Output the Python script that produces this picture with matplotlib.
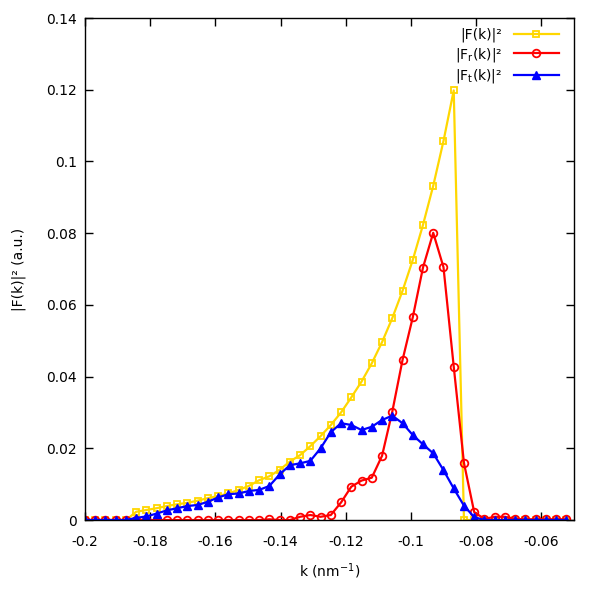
import matplotlib
matplotlib.use("Agg")
import matplotlib.pyplot as plt

k = [-0.20000, -0.19686, -0.19372, -0.19058, -0.18743, -0.18429, -0.18115, -0.17801,
     -0.17487, -0.17173, -0.16858, -0.16544, -0.16230, -0.15916, -0.15602, -0.15288,
     -0.14973, -0.14659, -0.14345, -0.14031, -0.13717, -0.13403, -0.13088, -0.12774,
     -0.12460, -0.12146, -0.11832, -0.11518, -0.11204, -0.10889, -0.10575, -0.10261,
     -0.09947, -0.09633, -0.09319, -0.09004, -0.08690, -0.08376, -0.08062, -0.07748,
     -0.07434, -0.07119, -0.06805, -0.06491, -0.06177, -0.05863, -0.05549, -0.05235]

F_total = [0, 0, 0, 0, 0, 0.0023, 0.0028, 0.0033, 0.0039, 0.0044, 0.0048, 0.0054,
           0.0061, 0.0067, 0.0074, 0.0084, 0.0095, 0.0111, 0.0122, 0.0140, 0.0163, 0.0181,
           0.0206, 0.0234, 0.0265, 0.0300, 0.0342, 0.0386, 0.0437, 0.0496, 0.0563, 0.0639,
           0.0725, 0.0823, 0.0932, 0.1057, 0.1198, 0, 0, 0, 0, 0, 0, 0, 0, 0, 0, 0]

F_r = [0, 0, 0, 0, 0, 0, 0, 0, 0, 0, 0, 0, 0, 0, 0, 0, 0, 0, 0.0002, 0, 0,
       0.0009, 0.0014, 0.0009, 0.0014, 0.0049, 0.0093, 0.0110, 0.0118, 0.0179, 0.0302,
       0.0446, 0.0565, 0.0704, 0.0801, 0.0705, 0.0428, 0.0159, 0.0022, 0.0003, 0.0009,
       0.0009, 0.0003, 0.0002, 0.0002, 0.0002, 0.0002, 0.0002]

F_t = [0, 0, 0, 0, 0, 0.0006, 0.0010, 0.0018, 0.0027, 0.0033, 0.0039, 0.0042, 0.0051,
       0.0063, 0.0072, 0.0074, 0.0081, 0.0084, 0.0095, 0.0127, 0.0153, 0.0158, 0.0165,
       0.0200, 0.0245, 0.0270, 0.0265, 0.0251, 0.0260, 0.0279, 0.0291, 0.0270, 0.0237,
       0.0211, 0.0186, 0.0139, 0.0088, 0.0040, 0.0008, 0, 0, 0, 0, 0, 0, 0, 0, 0]

labels = ["|F(k)|²", "|F$_\\mathrm{r}$(k)|²", "|F$_\\mathrm{t}$(k)|²"]
xticks = [-0.2, -0.18, -0.16, -0.14, -0.12, -0.1, -0.08, -0.06]
xticklabels = ["-0.2", "-0.18", "-0.16", "-0.14", "-0.12", "-0.1", "-0.08", "-0.06"]
yticks = [0, 0.02, 0.04, 0.06, 0.08, 0.1, 0.12, 0.14]
yticklabels = ["0", "0.02", "0.04", "0.06", "0.08", "0.1", "0.12", "0.14"]

plt.rcParams['font.family'] = ['DejaVu Sans']
plt.rcParams['axes.unicode_minus'] = False
plt.rcParams['mathtext.default'] = 'regular'

fig = plt.figure(figsize=(6, 6), dpi=100)
ax = fig.add_axes([0.1417, 0.1333, 0.815, 0.8367])

ax.plot(k, F_total, color="#ffd700", lw=1.6, marker="s", ms=5, mfc="none", mew=1.3,
        label=labels[0])
ax.plot(k, F_r, color="#ff0000", lw=1.6, marker="o", ms=5.5, mfc="none", mew=1.3,
        label=labels[1])
ax.plot(k, F_t, color="#0000ff", lw=1.6, marker="^", ms=6, mfc="#0000ff", mew=1.0,
        label=labels[2])

ax.set_xlim(-0.2, -0.05)
ax.set_ylim(0, 0.14)
ax.set_xticks(xticks)
ax.set_xticklabels(xticklabels)
ax.set_yticks(yticks)
ax.set_yticklabels(yticklabels)
ax.tick_params(direction="in", length=5.5, width=1, top=True, right=True,
               labelsize=10, colors="black")
ax.tick_params(axis="x", pad=11)
ax.tick_params(axis="y", pad=6)
for s in ax.spines.values():
    s.set_linewidth(1)

ax.set_xlabel("k (nm$^{-1}$)", fontsize=10, labelpad=9)
ax.set_ylabel("|F(k)|² (a.u.)", fontsize=10, labelpad=14)

leg = ax.legend(loc="upper right", frameon=False, markerfirst=False, fontsize=10,
                handlelength=3.3, handletextpad=0.8, labelspacing=0.25,
                borderaxespad=0.3, bbox_to_anchor=(0.99, 1.0))
for col in leg._legend_handle_box.get_children():
    col.align = "right"

fig.savefig("out.png", dpi=100)
